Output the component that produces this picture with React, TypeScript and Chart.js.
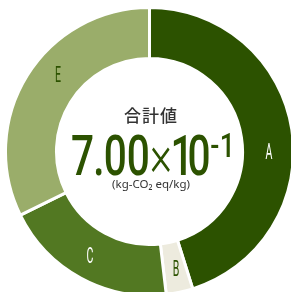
import React, { useEffect, useRef } from "react";
import { Chart, registerables } from "chart.js";

Chart.register(...registerables);

const categories = ["A", "B", "C", "E"];
const values = [0.316, 0.021, 0.137, 0.226];
const segmentColors = ["#2c5200", "#edebde", "#527822", "#9aad6a"];
const labelColors = ["#ffffff", "#2c5200", "#ffffff", "#2c5200"];
const labelAngleShift = [8.7, -0.7, 1.3, 8.2];
const totalTitle = "合計値";
const totalExponent = "-1";
const totalUnit = "(kg-CO₂ eq/kg)";

const GREEN = "#2c5200";
const GRAY = "#333333";

function charFont(ch: string, size: number) {
  return ch === "×" ? `300 ${size * 1.05}px Roboto` : `500 ${size}px Roboto`;
}

function runWidth(ctx: CanvasRenderingContext2D, chars: string[], size: number, sx: number, gap: number) {
  let w = 0;
  chars.forEach((ch, i) => {
    ctx.font = charFont(ch, size);
    const m = ctx.measureText(ch);
    w += (m.actualBoundingBoxLeft + m.actualBoundingBoxRight) * sx;
    if (i < chars.length - 1) w += gap;
  });
  return w;
}

function drawRun(
  ctx: CanvasRenderingContext2D,
  chars: string[],
  size: number,
  x: number,
  baseline: number,
  sx: number,
  gap: number
) {
  let cur = x;
  chars.forEach((ch) => {
    ctx.font = charFont(ch, size);
    const m = ctx.measureText(ch);
    const ink = m.actualBoundingBoxLeft + m.actualBoundingBoxRight;
    ctx.save();
    ctx.translate(cur, baseline);
    ctx.scale(sx, 1);
    ctx.fillText(ch, m.actualBoundingBoxLeft, 0);
    ctx.restore();
    cur += ink * sx + gap;
  });
  return cur;
}

const overlayPlugin = {
  id: "overlayText",
  afterDraw(chart: any) {
    const meta = chart.getDatasetMeta(0);
    const arcs = meta.data;
    if (!arcs.length) return;
    const ctx: CanvasRenderingContext2D = chart.ctx;
    const cx = arcs[0].x;
    const cy = arcs[0].y;

    // segment labels
    arcs.forEach((arc: any, i: number) => {
      const p = arc.getProps(["startAngle", "endAngle", "innerRadius", "outerRadius"], true);
      const a = (p.startAngle + p.endAngle) / 2 + (labelAngleShift[i] * Math.PI) / 180;
      const r = (p.innerRadius + p.outerRadius) / 2 + 1;
      const x = cx + Math.cos(a) * r;
      const y = cy + Math.sin(a) * r;
      ctx.save();
      ctx.font = "400 22px Roboto";
      ctx.fillStyle = labelColors[i];
      ctx.textAlign = "center";
      ctx.textBaseline = "alphabetic";
      ctx.translate(x, y + 7.8);
      ctx.scale(0.48, 1);
      ctx.fillText(categories[i], 0, 0);
      ctx.restore();
    });

    // title
    ctx.save();
    ctx.font = "500 17px 'Noto Sans CJK JP'";
    ctx.fillStyle = GRAY;
    ctx.textAlign = "center";
    ctx.textBaseline = "middle";
    (ctx as any).letterSpacing = "1px";
    ctx.fillText(totalTitle, cx + 1.5, cy - 36);
    ctx.restore();

    // big number
    const total = values.reduce((s, v) => s + v, 0);
    const mantissa = (total * 10).toFixed(2);
    const mainChars = [...mantissa.split(""), "×", "1", "0"];
    const supChars = totalExponent.split("");

    ctx.save();
    ctx.fillStyle = GREEN;
    ctx.font = "500 100px Roboto";
    const zm = ctx.measureText("0");
    const capRatio = zm.actualBoundingBoxAscent / 100;
    const mainSize = 40 / capRatio;
    ctx.font = `500 ${mainSize}px Roboto`;
    const z = ctx.measureText("0");
    const sx = 20 / (z.actualBoundingBoxLeft + z.actualBoundingBoxRight);
    const gap = 3;
    const supSize = (24 / 40) * mainSize;
    const wMain = runWidth(ctx, mainChars, mainSize, sx, gap);
    const wSup = runWidth(ctx, supChars, supSize, sx * 1.1, 3);
    const totalW = wMain + 2 + wSup;
    const startX = cx + 1.5 - totalW / 2;
    const endX = drawRun(ctx, mainChars, mainSize, startX, cy + 23.5, sx, gap);
    drawRun(ctx, supChars, supSize, endX - gap + 2, cy + 5.5, sx * 1.1, 3);
    ctx.restore();

    // unit
    ctx.save();
    ctx.font = "11.5px 'Noto Sans'";
    ctx.fillStyle = GRAY;
    ctx.textAlign = "center";
    ctx.textBaseline = "middle";
    ctx.fillText(totalUnit, cx + 1.5, cy + 33);
    ctx.restore();
  },
};

export default function App() {
  const ref = useRef<HTMLCanvasElement>(null);
  useEffect(() => {
    if (!ref.current) return;
    const chart = new Chart(ref.current, {
      type: "doughnut",
      data: {
        labels: categories,
        datasets: [
          {
            data: values,
            backgroundColor: segmentColors,
            borderColor: "#ffffff",
            borderWidth: 3,
            hoverOffset: 0,
          },
        ],
      },
      options: {
        responsive: false,
        animation: false,
        cutout: "64.6%",
        layout: { padding: 0 },
        plugins: {
          legend: { display: false },
          tooltip: { enabled: false },
        },
        events: [],
      },
      plugins: [overlayPlugin],
    });
    return () => chart.destroy();
  }, []);

  return (
    <div
      style={{
        position: "fixed",
        left: 0,
        top: 0,
        width: 291,
        height: 292,
        overflow: "hidden",
        background: "#ffffff",
      }}
    >
      <canvas
        ref={ref}
        width={291}
        height={291}
        style={{ position: "absolute", left: 4, top: 6, width: 291, height: 291 }}
      />
    </div>
  );
}
